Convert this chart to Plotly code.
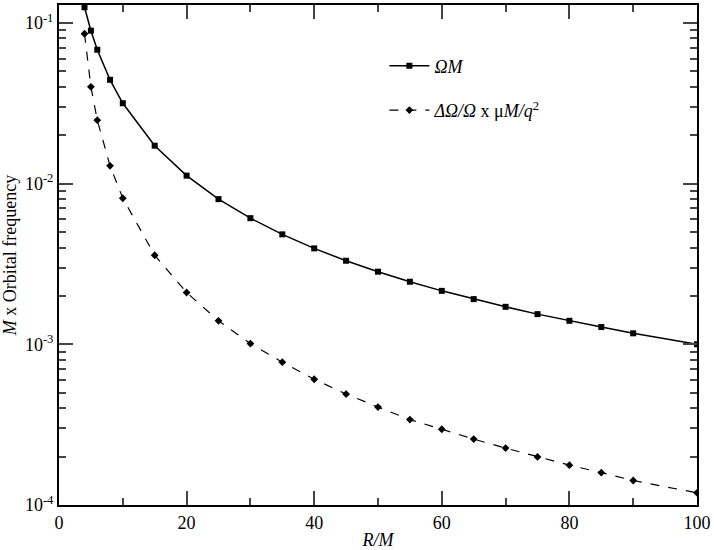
import plotly.graph_objects as go

R_solid = [4, 5, 6, 8, 10, 15, 20, 25, 30, 35, 40, 45, 50, 55, 60, 65, 70, 75, 80, 85, 90, 100]
omega_M = [0.125, 0.0894, 0.068, 0.0442, 0.0316, 0.0172, 0.0112, 0.0080, 0.00609, 0.00483,
           0.00395, 0.00331, 0.00283, 0.00245, 0.00215, 0.00191, 0.00171, 0.00154,
           0.00140, 0.00128, 0.00117, 0.00100]
R_dash = [4, 5, 6, 8, 10, 15, 20, 25, 30, 35, 40, 45, 50, 55, 60, 65, 70, 75, 80, 85, 90, 100]
delta_ratio = [0.0855, 0.040, 0.0248, 0.0129, 0.0081, 0.00358, 0.0021, 0.0014, 0.00101, 0.000774,
               0.000606, 0.00049, 0.000407, 0.00034, 0.000296, 0.000257, 0.000226, 0.000199,
               0.000177, 0.000159, 0.000142, 0.000119]

y_tickvals = [1e-4, 1e-3, 1e-2, 1e-1]
y_ticktext = ["10<sup>-4</sup>", "10<sup>-3</sup>", "10<sup>-2</sup>", "10<sup>-1</sup>"]
x_tickvals = [0, 20, 40, 60, 80, 100]

FONT = "Liberation Serif"

fig = go.Figure()
fig.add_trace(go.Scatter(
    x=R_solid, y=omega_M, mode="lines+markers", name="<i>ΩM</i>",
    line=dict(color="black", width=1.5),
    marker=dict(symbol="square", size=6, color="black"),
    legendgroup="a",
))
fig.add_trace(go.Scatter(
    x=R_dash, y=delta_ratio, mode="lines+markers",
    name="<i>ΔΩ/Ω</i> x μ<i>M/q</i><sup>2</sup>",
    line=dict(color="black", width=1.2, dash="dash"),
    marker=dict(symbol="diamond", size=6, color="black"),
    legendgroup="b",
))

fig.update_layout(
    width=714, height=550,
    margin=dict(l=59, r=15, t=3, b=45),
    paper_bgcolor="white", plot_bgcolor="white",
    font=dict(family=FONT, size=18, color="black"),
    showlegend=True,
    legend=dict(x=0.51, y=0.915, xanchor="left", yanchor="top",
                bgcolor="rgba(0,0,0,0)", font=dict(family=FONT, size=18),
                tracegroupgap=18, traceorder="grouped", itemwidth=40),
    xaxis=dict(
        range=[0, 100], tickvals=x_tickvals, ticks="inside", ticklen=14, tickwidth=1.5,
        showline=True, linewidth=2, linecolor="black", mirror="allticks",
        showgrid=False, zeroline=False,
        minor=dict(ticks="inside", ticklen=7, tickwidth=1.5, dtick=10, showgrid=False),
        title=dict(text="<i>R/M</i>", font=dict(family=FONT, size=18), standoff=2),
        tickfont=dict(family=FONT, size=18),
    ),
    yaxis=dict(
        type="log", range=[-4, -0.889], tickvals=y_tickvals, ticktext=y_ticktext,
        ticks="inside", ticklen=14, tickwidth=1.5,
        showline=True, linewidth=2, linecolor="black", mirror="allticks",
        showgrid=False, zeroline=False,
        minor=dict(ticks="inside", ticklen=7, tickwidth=1.5, dtick="D1", showgrid=False),
        title=dict(text="<i>M</i> x Orbital frequency", font=dict(family=FONT, size=18), standoff=4),
        tickfont=dict(family=FONT, size=18),
    ),
)

fig.write_html("out.html", config={"displayModeBar": False},
               post_script="document.body.style.margin='0';document.body.style.overflow='hidden';")
